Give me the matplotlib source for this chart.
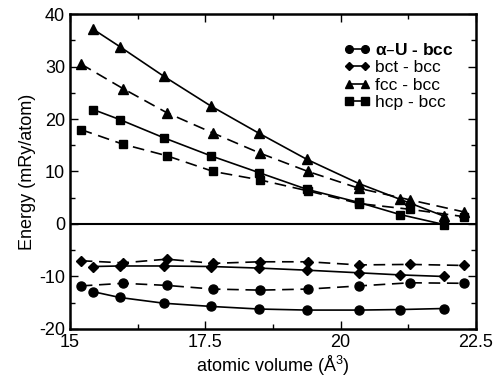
import matplotlib
matplotlib.use("Agg")
import matplotlib.pyplot as plt
from matplotlib.ticker import MultipleLocator, FormatStrFormatter

plt.rcParams['font.family'] = ['Liberation Sans', 'DejaVu Sans']

# volumes for the two data sets (solid / dashed)
vol_solid = [15.43, 15.92, 16.74, 17.60, 18.49, 19.38, 20.34, 21.10, 21.91]
vol_dash = [15.20, 15.98, 16.79, 17.65, 18.51, 19.40, 20.34, 21.28, 22.28]

# energies, mRy/atom
alpha_solid = [-12.9, -14.0, -15.1, -15.7, -16.2, -16.4, -16.4, -16.3, -16.1]
alpha_dash = [-11.8, -11.3, -11.7, -12.4, -12.6, -12.4, -11.8, -11.2, -11.3]
bct_solid = [-8.1, -8.0, -8.0, -8.1, -8.4, -8.8, -9.3, -9.7, -10.0]
bct_dash = [-7.0, -7.4, -6.7, -7.5, -7.2, -7.2, -7.8, -7.7, -7.9]
fcc_solid = [37.1, 33.8, 28.1, 22.5, 17.3, 12.3, 7.7, 4.7, 1.5]
fcc_dash = [30.5, 25.8, 21.2, 17.3, 13.5, 10.0, 6.8, 4.6, 2.3]
hcp_solid = [21.8, 19.9, 16.4, 13.0, 9.8, 6.6, 4.1, 1.8, -0.1]
hcp_dash = [18.0, 15.2, 13.0, 10.0, 8.4, 6.3, 3.9, 2.8, 1.4]

labels = [r'$\mathregular{\alpha}$–U - bcc', 'bct - bcc', 'fcc - bcc', 'hcp - bcc']
markers = ['o', 'D', '^', 's']
sizes = [6.5, 5, 6.5, 6]

fig = plt.figure(figsize=(5.03, 3.79), dpi=100)
ax = fig.add_axes([0.139, 0.132, 0.807, 0.831])

ax.axhline(0, color='black', lw=1.5)

solid = [alpha_solid, bct_solid, fcc_solid, hcp_solid]
dashed = [alpha_dash, bct_dash, fcc_dash, hcp_dash]
handles = []
for ys, yd, m, ms, lab in zip(solid, dashed, markers, sizes, labels):
    h, = ax.plot(vol_solid, ys, color='black', lw=1.2, marker=m, ms=ms, label=lab)
    ax.plot(vol_dash, yd, color='black', lw=1.2, ls=(0, (7, 4)), marker=m, ms=ms)
    handles.append(h)

ax.set_xlim(15, 22.5)
ax.set_ylim(-20, 40)
ax.xaxis.set_major_locator(MultipleLocator(2.5))
ax.xaxis.set_minor_locator(MultipleLocator(1.25))
ax.xaxis.set_major_formatter(FormatStrFormatter('%g'))
ax.yaxis.set_major_locator(MultipleLocator(10))
ax.yaxis.set_minor_locator(MultipleLocator(5))
ax.yaxis.set_major_formatter(FormatStrFormatter('%g'))
ax.tick_params(which='both', direction='in', top=True, right=True, labelsize=13)
ax.tick_params(which='major', length=6, width=1)
ax.tick_params(which='minor', length=3.5, width=1)
for s in ax.spines.values():
    s.set_linewidth(1.8)

ax.set_xlabel(r'atomic volume ($\mathregular{\AA^3}$)', fontsize=13, labelpad=2)
ax.set_ylabel('Energy (mRy/atom)', fontsize=13, labelpad=2)

leg = ax.legend(handles=handles, loc='upper right', frameon=False, numpoints=2,
                fontsize=12.5, handlelength=1.5, handletextpad=0.3, labelspacing=0.12,
                markerscale=0.85, bbox_to_anchor=(0.985, 0.96))
leg.get_texts()[0].set_fontweight('bold')

fig.savefig('out.png', dpi=100)
